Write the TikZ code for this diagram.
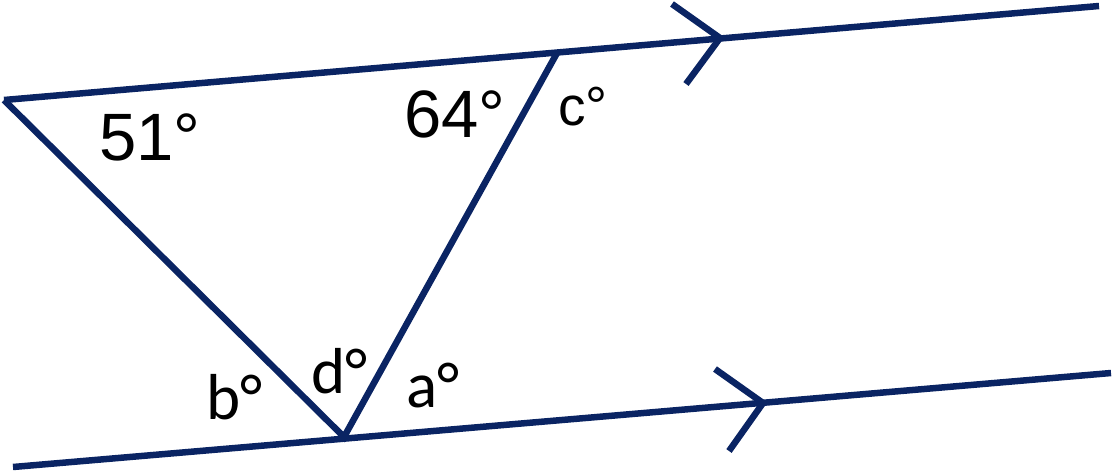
\documentclass[tikz,border=0pt]{standalone}
\usepackage{fontspec}
\setmainfont{Liberation Sans}
\newfontfamily\carl{Carlito}
\definecolor{navy}{HTML}{0A2463}
\begin{document}
\begin{tikzpicture}[x=1pt,y=-1pt,
  ln/.style={draw=navy,line width=6.5pt,line cap=butt,line join=miter},
  bigl/.style={anchor=base west,inner sep=0pt,font=\fontsize{67}{67}\selectfont},
  midl/.style={anchor=base west,inner sep=0pt,font=\fontsize{55}{55}\selectfont},
  cal/.style={anchor=base west,inner sep=0pt,font=\carl\fontsize{65}{65}\selectfont}]
\useasboundingbox (0,0) rectangle (1113,471);
% vertices and line ends
\coordinate (A) at (4,100);
\coordinate (B) at (557,53);
\coordinate (C) at (344,437);
\coordinate (TR) at (1099,6);
\coordinate (BL) at (13,467);
\coordinate (BR) at (1111,373);
% arrow chevrons
\coordinate (T1) at (720,38);
\coordinate (T1a) at (672,4);
\coordinate (T1b) at (686,84);
\coordinate (B1) at (763,403);
\coordinate (B1a) at (715,369);
\coordinate (B1b) at (729,451);
% lines
\draw[ln] (A) -- (TR);
\draw[ln] (BL) -- (BR);
\draw[ln] (A) -- (C) -- (B);
\draw[ln] (T1a) -- (T1) -- (T1b);
\draw[ln] (B1a) -- (B1) -- (B1b);
% labels
\node[bigl] (l51) at (99,160) {51°};
\node[bigl] (l64) at (404,137) {64°};
\node[midl] (lc) at (558,125) {c°};
\node[cal] (lb) at (206,419) {b°};
\node[cal] (ld) at (311,393) {d°};
\node[cal] (la) at (406,407) {a°};
\end{tikzpicture}
\end{document}
